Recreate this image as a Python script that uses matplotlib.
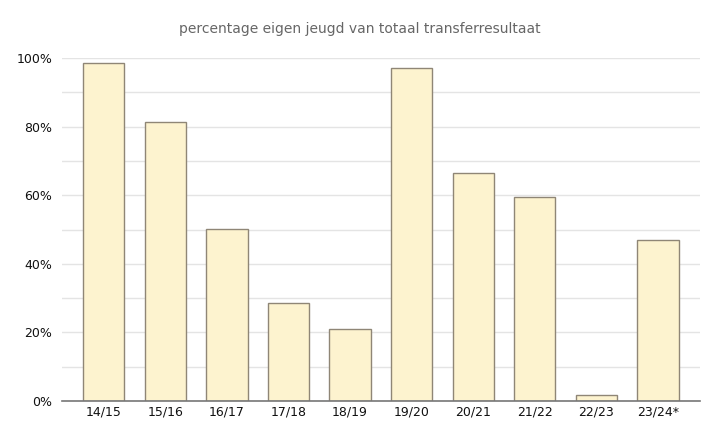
import matplotlib.pyplot as plt
import numpy as np
from matplotlib.ticker import MultipleLocator, PercentFormatter

# seasons and share of own youth in total transfer result
seasons = ["14/15", "15/16", "16/17", "17/18", "18/19",
           "19/20", "20/21", "21/22", "22/23", "23/24*"]
share = [98.5, 81.3, 50.1, 28.6, 21.0, 97.1, 66.5, 59.5, 1.7, 46.9]

fig = plt.figure(figsize=(7.2, 4.41), dpi=100)
ax = fig.add_axes([0.086, 0.091, 0.886, 0.777])

x = np.arange(len(seasons))
ax.bar(x, share, width=0.67, color="#fdf3cf", edgecolor="#8f8676",
       linewidth=1.0, zorder=3)

ax.set_xlim(-0.68, len(seasons) - 0.32)
ax.set_ylim(0, 100)
ax.yaxis.set_major_locator(MultipleLocator(20))
ax.yaxis.set_minor_locator(MultipleLocator(10))
ax.yaxis.set_major_formatter(PercentFormatter(decimals=0))
ax.grid(axis="y", which="both", color="#e4e4e4", linewidth=1.0, zorder=0)

ax.set_xticks(x)
ax.set_xticklabels(seasons)
ax.tick_params(axis="both", which="both", length=0, labelsize=9, colors="#111111")
ax.tick_params(axis="x", pad=3)
ax.tick_params(axis="y", pad=7)

for side in ["top", "right", "left"]:
    ax.spines[side].set_visible(False)
ax.spines["bottom"].set_color("#777777")
ax.spines["bottom"].set_linewidth(1.2)
ax.spines["bottom"].set_zorder(4)

fig.text(0.5, 0.935, "percentage eigen jeugd van totaal transferresultaat",
         ha="center", va="center", fontsize=10, color="#666666")

fig.savefig("out.png", dpi=100)
